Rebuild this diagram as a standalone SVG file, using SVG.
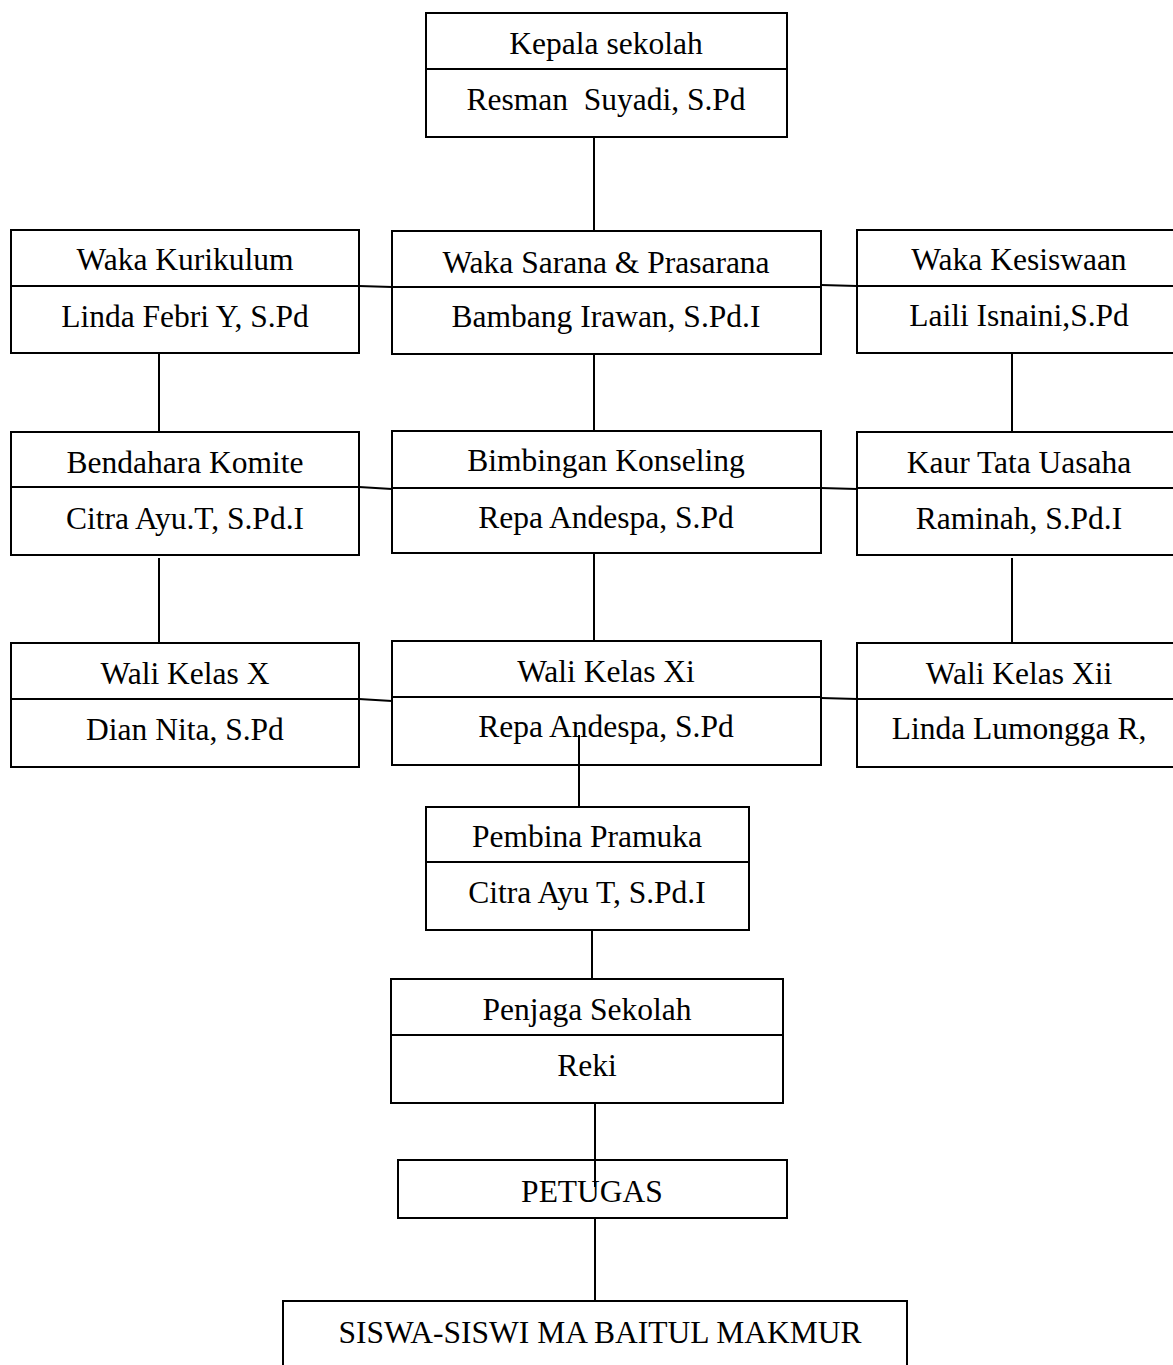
<svg xmlns="http://www.w3.org/2000/svg" width="1173" height="1365" viewBox="0 0 1173 1365">
<style>
.box{fill:#fff;stroke:#000;stroke-width:2}
.div{stroke:#000;stroke-width:2}
.con{stroke:#000;stroke-width:2;fill:none}
text{font-family:"Liberation Serif","Times New Roman",serif;font-size:31.5px;fill:#000;text-anchor:middle;white-space:pre}
</style>
<rect width="1173" height="1365" fill="#fff"/>
<g id="connectors">
<line class="con" x1="594" y1="137" x2="594" y2="231"/>
<line class="con" x1="359" y1="286" x2="392" y2="287"/>
<line class="con" x1="821" y1="285" x2="857" y2="286"/>
<line class="con" x1="159" y1="353" x2="159" y2="432"/>
<line class="con" x1="594" y1="354" x2="594" y2="431"/>
<line class="con" x1="1012" y1="353" x2="1012" y2="432"/>
<line class="con" x1="359" y1="487" x2="392" y2="489"/>
<line class="con" x1="821" y1="488" x2="857" y2="489"/>
<line class="con" x1="159" y1="558" x2="159" y2="643"/>
<line class="con" x1="594" y1="553" x2="594" y2="641"/>
<line class="con" x1="1012" y1="558" x2="1012" y2="643"/>
<line class="con" x1="359" y1="699" x2="392" y2="701"/>
<line class="con" x1="821" y1="698" x2="857" y2="699"/>
</g>
<g id="kepala"><rect class="box" x="426" y="13" width="361" height="124"/><line class="div" x1="426" y1="69" x2="787" y2="69"/><text x="606" y="54">Kepala sekolah</text><text x="606" y="110" xml:space="preserve">Resman  Suyadi, S.Pd</text></g>
<g id="kurikulum"><rect class="box" x="11" y="230" width="348" height="123"/><line class="div" x1="11" y1="286" x2="359" y2="286"/><text x="185" y="270">Waka Kurikulum</text><text x="185" y="327">Linda Febri Y, S.Pd</text></g>
<g id="sarana"><rect class="box" x="392" y="231" width="429" height="123"/><line class="div" x1="392" y1="287" x2="821" y2="287"/><text x="606" y="273">Waka Sarana &amp; Prasarana</text><text x="606" y="327">Bambang Irawan, S.Pd.I</text></g>
<g id="kesiswaan"><rect class="box" x="857" y="230" width="326" height="123"/><line class="div" x1="857" y1="286" x2="1183" y2="286"/><text x="1019" y="270">Waka Kesiswaan</text><text x="1019" y="326">Laili Isnaini,S.Pd</text></g>
<g id="bendahara"><rect class="box" x="11" y="432" width="348" height="123"/><line class="div" x1="11" y1="487" x2="359" y2="487"/><text x="185" y="473">Bendahara Komite</text><text x="185" y="529">Citra Ayu.T, S.Pd.I</text></g>
<g id="bk"><rect class="box" x="392" y="431" width="429" height="122"/><line class="div" x1="392" y1="488" x2="821" y2="488"/><text x="606" y="471">Bimbingan Konseling</text><text x="606" y="528">Repa Andespa, S.Pd</text></g>
<g id="kaur"><rect class="box" x="857" y="432" width="326" height="123"/><line class="div" x1="857" y1="488" x2="1183" y2="488"/><text x="1019" y="473">Kaur Tata Uasaha</text><text x="1019" y="529">Raminah, S.Pd.I</text></g>
<g id="walix"><rect class="box" x="11" y="643" width="348" height="124"/><line class="div" x1="11" y1="699" x2="359" y2="699"/><text x="185" y="684">Wali Kelas X</text><text x="185" y="740">Dian Nita, S.Pd</text></g>
<g id="walixi"><rect class="box" x="392" y="641" width="429" height="124"/><line class="div" x1="392" y1="697" x2="821" y2="697"/><text x="606" y="682">Wali Kelas Xi</text><text x="606" y="737">Repa Andespa, S.Pd</text></g>
<g id="walixii"><rect class="box" x="857" y="643" width="326" height="124"/><line class="div" x1="857" y1="699" x2="1183" y2="699"/><text x="1019" y="684">Wali Kelas Xii</text><text x="1019" y="739">Linda Lumongga R,</text></g>
<g id="pembina"><rect class="box" x="426" y="807" width="323" height="123"/><line class="div" x1="426" y1="862" x2="749" y2="862"/><text x="587" y="847">Pembina Pramuka</text><text x="587" y="903">Citra Ayu T, S.Pd.I</text></g>
<g id="penjaga"><rect class="box" x="391" y="979" width="392" height="124"/><line class="div" x1="391" y1="1035" x2="783" y2="1035"/><text x="587" y="1020">Penjaga Sekolah</text><text x="587" y="1076">Reki</text></g>
<g id="petugas"><rect class="box" x="398" y="1160" width="389" height="58"/><text x="592" y="1202">PETUGAS</text></g>
<g id="siswa"><rect class="box" x="283" y="1301" width="624" height="80"/><text x="600" y="1343">SISWA-SISWI MA BAITUL MAKMUR</text></g>
<g id="connectors-over">
<line class="con" x1="579" y1="735" x2="579" y2="807"/>
<line class="con" x1="592" y1="930" x2="592" y2="979"/>
<line class="con" x1="595" y1="1103" x2="595" y2="1187"/>
<line class="con" x1="595" y1="1218" x2="595" y2="1301"/>
</g>
</svg>
